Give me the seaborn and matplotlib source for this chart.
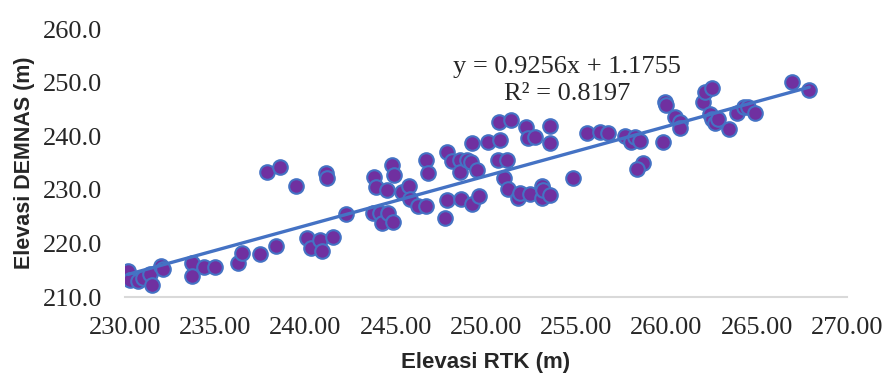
"""Elevasi RTK vs Elevasi DEMNAS - scatter dengan garis tren."""
import matplotlib
matplotlib.use("Agg")
import matplotlib.pyplot as plt
import numpy as np
import pandas as pd
import seaborn as sns
from matplotlib.ticker import FormatStrFormatter, MultipleLocator

# Data (m)
elevasi_rtk = [
    230.18, 230.28, 230.74, 231.01, 231.39, 231.51, 232.03, 232.11, 233.73, 233.75,
    234.39, 235.00, 236.28, 236.47, 237.48, 238.40, 237.85, 238.59, 239.46, 240.07,
    240.34, 240.80, 240.90, 241.54, 241.17, 241.21, 242.24, 243.76, 244.13, 244.22,
    244.59, 244.86, 243.82, 243.94, 244.54, 244.82, 244.89, 245.33, 245.75, 245.79,
    246.25, 246.71, 246.71, 246.81, 247.73, 247.82, 247.82, 248.13, 248.56, 248.56,
    248.60, 248.93, 249.15, 249.21, 249.21, 249.52, 249.63, 250.13, 250.74, 250.78,
    250.68, 251.15, 251.00, 251.24, 251.37, 251.79, 251.88, 252.25, 252.34, 252.71,
    252.44, 253.09, 253.09, 253.17, 253.55, 253.55, 253.58, 254.84, 255.61, 256.32,
    256.78, 257.70, 258.02, 258.25, 258.53, 258.71, 258.35, 259.79, 259.92, 259.97,
    260.50, 260.75, 260.75, 262.04, 262.13, 262.50, 262.41, 262.50, 262.69, 262.87,
    263.47, 263.93, 264.29, 264.53, 264.90, 266.94, 267.91,
]
elevasi_demnas = [
    214.85, 213.17, 212.99, 213.60, 214.29, 212.24, 215.88, 215.22, 216.29, 213.92,
    215.54, 215.65, 216.40, 218.27, 217.97, 219.57, 233.38, 234.31, 230.71, 220.95,
    219.09, 220.63, 218.58, 221.14, 233.08, 232.15, 225.49, 225.62, 225.62, 223.75,
    225.62, 224.05, 232.39, 230.58, 230.02, 234.63, 232.71, 229.65, 230.80, 228.28,
    226.98, 227.07, 235.56, 233.08, 224.68, 228.10, 237.11, 235.37, 235.56, 233.38,
    228.23, 235.56, 235.24, 238.79, 227.30, 233.69, 228.90, 238.97, 242.71, 239.29,
    235.56, 235.56, 232.26, 230.09, 243.02, 228.41, 229.46, 241.77, 239.61, 239.91,
    229.16, 230.71, 228.41, 229.96, 241.96, 238.68, 229.03, 232.26, 240.54, 240.73,
    240.54, 240.13, 238.97, 239.91, 239.20, 234.94, 233.88, 238.92, 246.44, 245.82,
    243.64, 242.71, 241.62, 246.44, 248.30, 248.94, 244.14, 243.21, 242.56, 243.30,
    241.34, 244.42, 245.50, 245.39, 244.27, 250.17, 248.62,
]

# Persamaan garis tren (dari grafik)
slope = 0.9256
intercept = 1.1755
r_squared = 0.8197

df = pd.DataFrame({"Elevasi RTK (m)": elevasi_rtk, "Elevasi DEMNAS (m)": elevasi_demnas})

sns.set_style("white")
plt.rcParams["font.family"] = ["Liberation Serif", "DejaVu Serif"]

fig = plt.figure(figsize=(8.85, 3.77), dpi=100)
ax = fig.add_axes([0.141, 0.212, 0.816, 0.711])

sns.scatterplot(
    data=df, x="Elevasi RTK (m)", y="Elevasi DEMNAS (m)", ax=ax,
    s=110, color="#7030A0", edgecolor="#4472C4", linewidth=1.5, zorder=3,
)

# Garis tren linear
x_tren = np.array([df["Elevasi RTK (m)"].min(), df["Elevasi RTK (m)"].max()])
ax.plot(x_tren, slope * x_tren + intercept, color="#4472C4", linewidth=2.4, zorder=4)

ax.text(
    254.5, 250.4,
    f"y = {slope:.4f}x + {intercept:.4f}\nR² = {r_squared:.4f}",
    ha="center", va="center", fontsize=19, linespacing=1.35, multialignment="center",
)

ax.set_xlim(230, 270)
ax.set_ylim(210, 260)
ax.xaxis.set_major_locator(MultipleLocator(5))
ax.yaxis.set_major_locator(MultipleLocator(10))
ax.xaxis.set_major_formatter(FormatStrFormatter("%.2f"))
ax.yaxis.set_major_formatter(FormatStrFormatter("%.1f"))
ax.tick_params(axis="both", length=0, labelsize=19)
ax.tick_params(axis="x", pad=14)
ax.tick_params(axis="y", pad=16)

for lado in ["top", "right", "left"]:
    ax.spines[lado].set_visible(False)
ax.spines["bottom"].set_color("#D9D9D9")
ax.spines["bottom"].set_linewidth(1.5)

ax.set_xlabel("Elevasi RTK (m)", fontsize=16, fontweight="bold", family="Liberation Sans", labelpad=10)
ax.set_ylabel("Elevasi DEMNAS (m)", fontsize=15.5, fontweight="bold", family="Liberation Sans", labelpad=6)

fig.savefig("out.png", dpi=100)
